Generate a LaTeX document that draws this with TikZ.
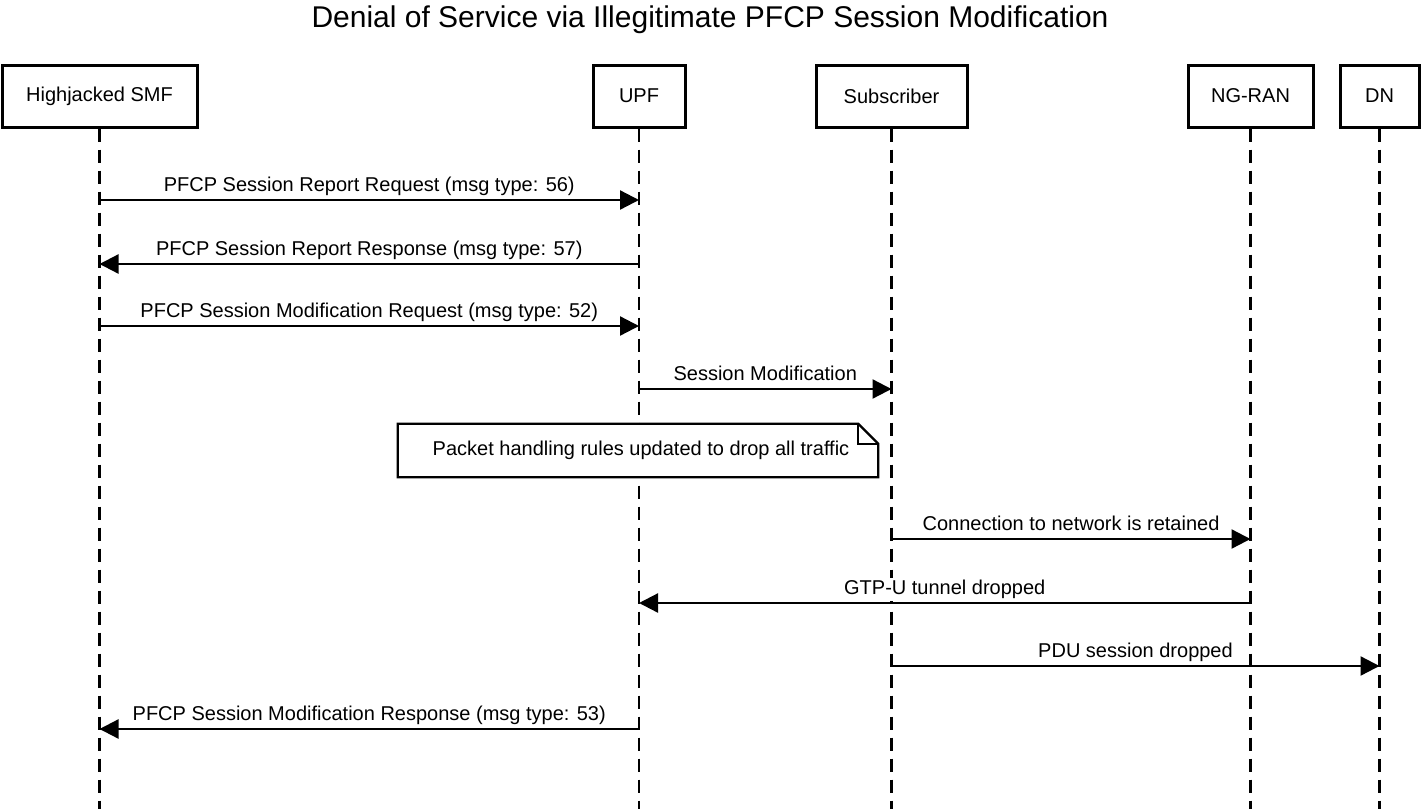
\documentclass[tikz,border=0pt]{standalone}
\usepackage{fontspec}
\setmainfont{Liberation Sans}
\usetikzlibrary{arrows.meta}
\begin{document}
\begin{tikzpicture}[x=1pt,y=-1pt,
  actor/.style={draw, line width=3pt, fill=white, minimum height=62pt, inner sep=0pt, font=\fontsize{20}{24}\selectfont},
  life/.style={line width=2.5pt, dash pattern=on 13pt off 8pt},
  msg/.style={line width=2.3pt, -{Triangle[length=19pt,width=19pt]}},
  lbl/.style={font=\fontsize{20}{24}\selectfont, anchor=base, yshift=8.5pt, fill=white, inner xsep=2pt, inner ysep=2pt},
  notebox/.style={line width=2.3pt, fill=white, line join=miter}]
\useasboundingbox (0,0) rectangle (1421,809);
\node[font=\fontsize{30}{36}\selectfont, anchor=base, inner sep=0pt] (title) at (710,27) {Denial of Service via Illegitimate PFCP Session Modification};
\coordinate (bottom) at (0,809);
% actors
\node[actor, minimum width=195pt] (smf) at (99.5,96) {Highjacked SMF};
\node[actor, minimum width=92pt] (upf) at (639,96) {UPF};
\node[actor, minimum width=151pt] (sub) at (891.5,96) {Subscriber};
\node[actor, minimum width=125pt] (ran) at (1250.5,96) {NG-RAN};
\node[actor, minimum width=79pt] (dn) at (1379.5,96) {DN};
% lifelines
\foreach \a in {smf,upf,sub,ran,dn}{
  \draw[life] (\a.south) -- (\a.south |- bottom);
}
% message rows
\coordinate (m1) at (0,200);
\coordinate (m2) at (0,264);
\coordinate (m3) at (0,326);
\coordinate (m4) at (0,389);
\coordinate (m6) at (0,539);
\coordinate (m7) at (0,603);
\coordinate (m8) at (0,666);
\coordinate (m9) at (0,729);
\draw[msg] (smf |- m1) -- node[lbl] {PFCP Session Report Request (msg type: 56)} (upf |- m1);
\draw[msg] (upf |- m2) -- node[lbl] {PFCP Session Report Response (msg type: 57)} (smf |- m2);
\draw[msg] (smf |- m3) -- node[lbl] {PFCP Session Modification Request (msg type: 52)} (upf |- m3);
\draw[msg] (upf |- m4) -- node[lbl] {Session Modification} (sub |- m4);
% note
\node[minimum width=480pt, minimum height=53pt, inner sep=0pt] (note) at (638,450.5) {};
\draw[notebox] (note.north west) -- ([xshift=-20pt]note.north east) -- ([yshift=-20pt]note.north east) -- (note.south east) -- (note.south west) -- cycle;
\draw[line width=2pt, line join=miter] ([xshift=-20pt]note.north east) -- ([xshift=-20pt,yshift=-20pt]note.north east) -- ([yshift=-20pt]note.north east);
\node[font=\fontsize{20}{24}\selectfont, inner sep=0pt] (notetext) at ([xshift=3pt]note.center) {Packet handling rules updated to drop all traffic};
\draw[msg] (sub |- m6) -- node[lbl] {Connection to network is retained} (ran |- m6);
\draw[msg] (ran |- m7) -- node[lbl] {GTP-U tunnel dropped} (upf |- m7);
\draw[msg] (sub |- m8) -- node[lbl] {PDU session dropped} (dn |- m8);
\draw[msg] (upf |- m9) -- node[lbl] {PFCP Session Modification Response (msg type: 53)} (smf |- m9);
\end{tikzpicture}
\end{document}
